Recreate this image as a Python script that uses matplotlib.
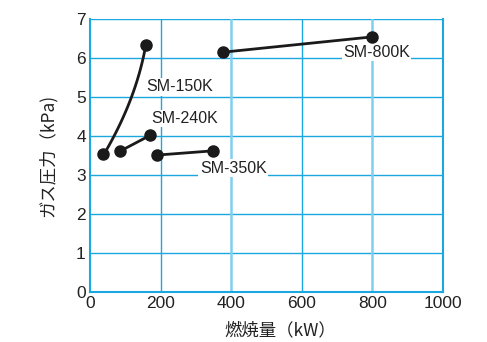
import numpy as np
import matplotlib
matplotlib.use("Agg")
import matplotlib.pyplot as plt

plt.rcParams['font.family'] = ['Noto Sans CJK JP', 'DejaVu Sans']

# curves: burner output (kW) vs gas pressure (kPa)
sm150_x = [36, 74, 115, 149, 160]
sm150_y = [3.53, 4.0, 5.0, 6.0, 6.34]
sm240_x = [85, 171]
sm240_y = [3.61, 4.02]
sm350_x = [189, 349]
sm350_y = [3.51, 3.62]
sm800_x = [378, 798]
sm800_y = [6.15, 6.54]

labels = ["SM-150K", "SM-240K", "SM-350K", "SM-800K"]
label_pos = [(160, 5.26), (173, 4.45), (311, 3.17), (717, 6.15)]

xticks = [0, 200, 400, 600, 800, 1000]
yticks = [0, 1, 2, 3, 4, 5, 6, 7]

blue = "#1ba8e0"
light = "#7fd0f0"

fig = plt.figure(figsize=(4.87, 3.42), dpi=100)
ax = fig.add_axes([90 / 487, 50 / 342, 353 / 487, 273 / 342])

for y in yticks[1:]:
    ax.axhline(y, color=blue, lw=1.0, zorder=1)
for x in [200, 600]:
    ax.axvline(x, color=blue, lw=1.0, zorder=1)
for x in [400, 800]:
    ax.axvline(x, color=light, lw=1.8, zorder=1)

for lab, (lx, ly) in zip(labels, label_pos):
    ax.text(lx, ly, lab, fontsize=11.5, va="center", ha="left", color="#222222",
            family=['Liberation Sans', 'DejaVu Sans'],
            bbox=dict(facecolor="white", edgecolor="none", pad=1), zorder=2)

lc = "#1a1a1a"
# smooth curve through the SM-150K readings (x as a function of y)
coef = np.polyfit(sm150_y, sm150_x, 2)
yy = np.linspace(sm150_y[0], sm150_y[-1], 100)
ax.plot(np.polyval(coef, yy), yy, color=lc, lw=2, zorder=3)
ax.plot([sm150_x[0], sm150_x[-1]], [sm150_y[0], sm150_y[-1]], "o", color=lc, ms=8, zorder=4)
for xs, ys in [(sm240_x, sm240_y), (sm350_x, sm350_y), (sm800_x, sm800_y)]:
    ax.plot(xs, ys, "-o", color=lc, lw=2, ms=8, zorder=3)

ax.set_xlim(0, 1000)
ax.set_ylim(0, 7)
ax.set_xticks(xticks)
ax.set_yticks(yticks)
ax.tick_params(length=0, labelsize=12.5, colors="#222222", pad=3)
for lab in ax.get_xticklabels() + ax.get_yticklabels():
    lab.set_family(['Liberation Sans', 'DejaVu Sans'])
for s in ["left", "bottom", "right"]:
    ax.spines[s].set_color(blue)
    ax.spines[s].set_linewidth(1.5)
ax.spines["top"].set_visible(False)

ax.set_xlabel("燃焼量（kW）", fontsize=12.5, color="#222222", va="center")
ax.xaxis.set_label_coords(0.54, -0.14)
ax.set_ylabel("ガス圧力（kPa)", fontsize=12.5, color="#222222", labelpad=14)

fig.savefig("out.png", dpi=100)
